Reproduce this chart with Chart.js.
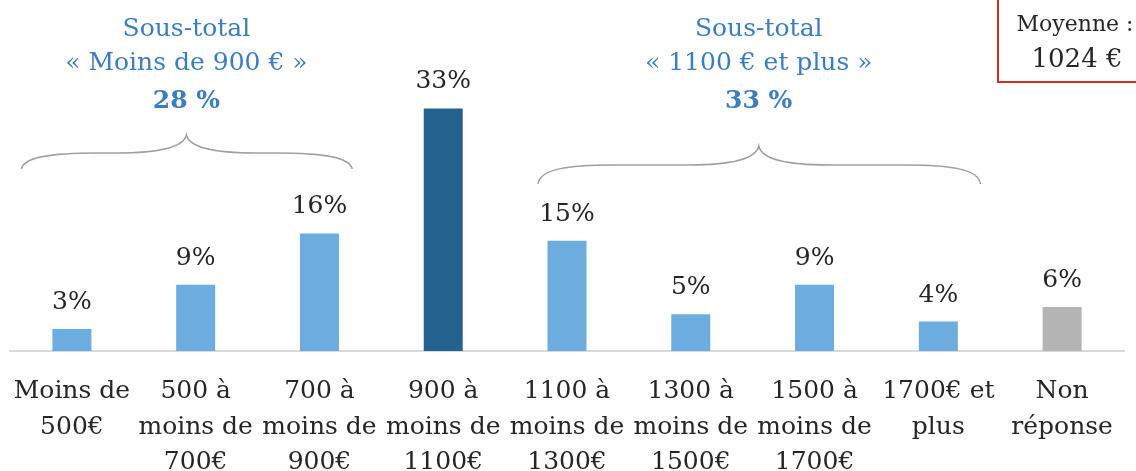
<!DOCTYPE html>
<html>
<head>
<meta charset="utf-8">
<script src="https://cdn.jsdelivr.net/npm/chart.js@4"></script>
<style>
  body { margin: 0; background: #fff; }
  canvas { display: block; }
</style>
</head>
<body>
<canvas id="revChart" width="1136" height="471"></canvas>
<script>
const labels = [
  ['Moins de', '500€'],
  ['500 à', 'moins de', '700€'],
  ['700 à', 'moins de', '900€'],
  ['900 à', 'moins de', '1100€'],
  ['1100 à', 'moins de', '1300€'],
  ['1300 à', 'moins de', '1500€'],
  ['1500 à', 'moins de', '1700€'],
  ['1700€ et', 'plus'],
  ['Non', 'réponse']
];
const values = [3, 9, 16, 33, 15, 5, 9, 4, 6];
const barColors = ['#6cacde', '#6cacde', '#6cacde', '#24628f', '#6cacde', '#6cacde', '#6cacde', '#6cacde', '#b4b4b4'];

const groupLow = ['Sous-total', '« Moins de 900 € »', '28 %'];
const groupHigh = ['Sous-total', '« 1100 € et plus »', '33 %'];
const meanText = ['Moyenne :', '1024 €'];

const SERIF = '"DejaVu Serif", serif';

// percent above each bar
const barLabels = {
  id: 'barLabels',
  afterDatasetsDraw(chart) {
    const ctx = chart.ctx;
    const meta = chart.getDatasetMeta(0);
    ctx.save();
    ctx.font = '25px ' + SERIF;
    ctx.fillStyle = '#262626';
    ctx.textAlign = 'center';
    ctx.textBaseline = 'alphabetic';
    meta.data.forEach((bar, i) => {
      ctx.fillText(values[i] + '%', bar.x, bar.y - 20);
    });
    ctx.restore();
  }
};

function drawBrace(ctx, x1, xm, x2, yTip, yFlat, yEnd) {
  ctx.beginPath();
  ctx.moveTo(x1, yEnd);
  ctx.bezierCurveTo(x1 + 2, yFlat + 4, x1 + 30, yFlat, x1 + 75, yFlat);
  ctx.lineTo(xm - 70, yFlat);
  ctx.bezierCurveTo(xm - 30, yFlat, xm - 3, yFlat - 5, xm, yTip);
  ctx.bezierCurveTo(xm + 3, yFlat - 5, xm + 30, yFlat, xm + 70, yFlat);
  ctx.lineTo(x2 - 75, yFlat);
  ctx.bezierCurveTo(x2 - 30, yFlat, x2 - 2, yFlat + 4, x2, yEnd);
  ctx.stroke();
}

const annotations = {
  id: 'annotations',
  afterDraw(chart) {
    const ctx = chart.ctx;
    const xs = chart.scales.x;
    ctx.save();

    // braces
    ctx.strokeStyle = '#a0a0a0';
    ctx.lineWidth = 1.5;
    const l1 = xs.getPixelForValue(-0.408), lm = xs.getPixelForValue(0.925), l2 = xs.getPixelForValue(2.264);
    const r1 = xs.getPixelForValue(3.765), rm = xs.getPixelForValue(5.549), r2 = xs.getPixelForValue(7.341);
    drawBrace(ctx, l1, lm, l2, 135, 153, 169);
    drawBrace(ctx, r1, rm, r2, 146, 165, 184);

    // group texts
    ctx.textAlign = 'center';
    ctx.fillStyle = '#3a7dc0';
    [[groupLow, lm], [groupHigh, rm]].forEach(([lines, cx]) => {
      ctx.font = '25px ' + SERIF;
      ctx.fillText(lines[0], cx, 36);
      ctx.fillText(lines[1], cx, 70);
      ctx.font = 'bold 25px ' + SERIF;
      ctx.fillText(lines[2], cx, 108);
    });

    // mean box
    ctx.strokeStyle = '#d0301c';
    ctx.lineWidth = 2;
    ctx.strokeRect(998, -5, 160, 87);
    ctx.fillStyle = '#262626';
    ctx.font = '22px ' + SERIF;
    ctx.fillText(meanText[0], 1075, 31);
    ctx.font = '26px ' + SERIF;
    ctx.fillText(meanText[1], 1077, 67);
    ctx.restore();
  }
};

new Chart(document.getElementById('revChart'), {
  type: 'bar',
  data: {
    labels,
    datasets: [{
      data: values,
      backgroundColor: barColors,
      barPercentage: 0.315,
      categoryPercentage: 1
    }]
  },
  options: {
    responsive: false,
    devicePixelRatio: 1,
    animation: false,
    layout: { padding: { top: 57, left: 10, right: 12, bottom: 0 } },
    plugins: { legend: { display: false }, tooltip: { enabled: false } },
    scales: {
      x: {
        grid: { display: false, drawTicks: false },
        border: { display: true, color: '#d9d9d9', width: 2 },
        ticks: {
          autoSkip: false,
          maxRotation: 0,
          minRotation: 0,
          padding: 23,
          color: '#262626',
          font: { family: SERIF, size: 25, lineHeight: 1.42 }
        },
        afterFit(scale) {
          scale.height = 120;
          scale.paddingLeft = 0;
          scale.paddingRight = 0;
        }
      },
      y: {
        display: false,
        min: 0,
        max: 40
      }
    }
  },
  plugins: [barLabels, annotations]
});
</script>
</body>
</html>
